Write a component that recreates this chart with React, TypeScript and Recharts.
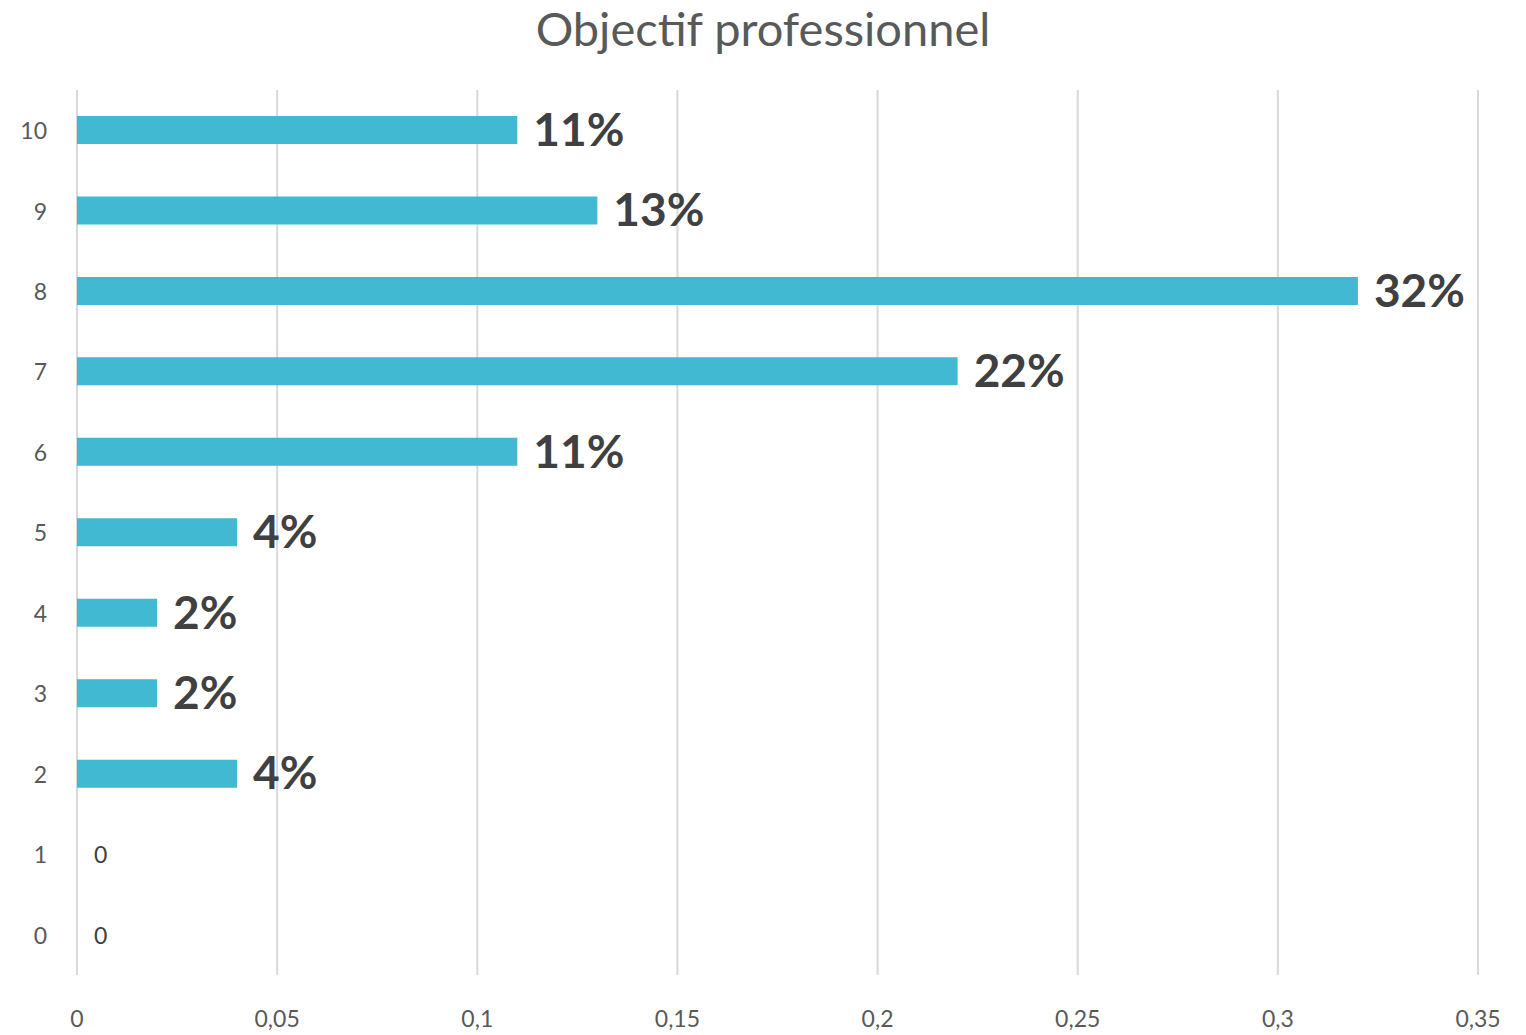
import React from 'react';
import { BarChart, Bar, XAxis, YAxis, CartesianGrid, LabelList } from 'recharts';

const categories = ['10', '9', '8', '7', '6', '5', '4', '3', '2', '1', '0'];
const shares = [0.11, 0.13, 0.32, 0.22, 0.11, 0.04, 0.02, 0.02, 0.04, 0, 0];
const xTicks = [0, 0.05, 0.1, 0.15, 0.2, 0.25, 0.3, 0.35];

const data = categories.map((c, i) => ({ note: c, value: shares[i] }));

const FONT = 'Lato, "Open Sans", sans-serif';

function ValueLabel(props: any) {
  const { x, y, width, height, value } = props;
  if (!value) return null;
  const cy = y + height / 2;
  return (
    <text
      x={x + width + 16}
      y={cy + 4}
      fontSize={46}
      fontWeight="bold"
      fill="#404040"
      fontFamily={FONT}
      dominantBaseline="middle"
    >
      {Math.round(value * 100) + '%'}
    </text>
  );
}

// category tick; zero-valued rows also get their "0" data label here,
// since recharts drops labels for zero-length bars
function CategoryTick(props: any) {
  const { x, y, payload, index } = props;
  const v = shares[index];
  return (
    <g>
      <text x={x} y={y + 3} textAnchor="end" dominantBaseline="middle" fontSize={23} fill="#595959" fontFamily={FONT}>
        {payload.value}
      </text>
      {v === 0 && (
        <text x={x + 47} y={y + 3} dominantBaseline="middle" fontSize={23} fill="#404040" fontFamily={FONT}>
          0
        </text>
      )}
    </g>
  );
}

export default function App() {
  return (
    <div style={{ position: 'absolute', left: 0, top: 0, width: 1526, height: 1035, background: '#fff' }}>
      <div
        style={{
          position: 'absolute',
          top: 0,
          left: 0,
          width: 1526,
          textAlign: 'center',
          fontFamily: FONT,
          fontSize: 47,
          color: '#595959',
        }}
      >
        Objectif professionnel
      </div>
      <BarChart
        width={1526}
        height={1035}
        data={data}
        layout="vertical"
        margin={{ top: 90, right: 48, bottom: 0, left: 0 }}
      >
        <CartesianGrid horizontal={false} stroke="#D9D9D9" strokeWidth={2} />
        <XAxis
          type="number"
          domain={[0, 0.35]}
          ticks={xTicks}
          height={60}
          axisLine={false}
          tickLine={false}
          tickSize={0}
          tickMargin={36}
          interval={0}
          tickFormatter={(v: number) => String(v).replace('.', ',')}
          tick={{ fill: '#595959', fontSize: 23, fontFamily: FONT }}
        />
        <YAxis
          type="category"
          dataKey="note"
          width={77}
          axisLine={false}
          tickLine={false}
          tickSize={0}
          tickMargin={30}
          interval={0}
          tick={<CategoryTick />}
        />
        <Bar dataKey="value" fill="#41B9D3" barSize={28} isAnimationActive={false}>
          <LabelList dataKey="value" content={ValueLabel} />
        </Bar>
      </BarChart>
    </div>
  );
}
